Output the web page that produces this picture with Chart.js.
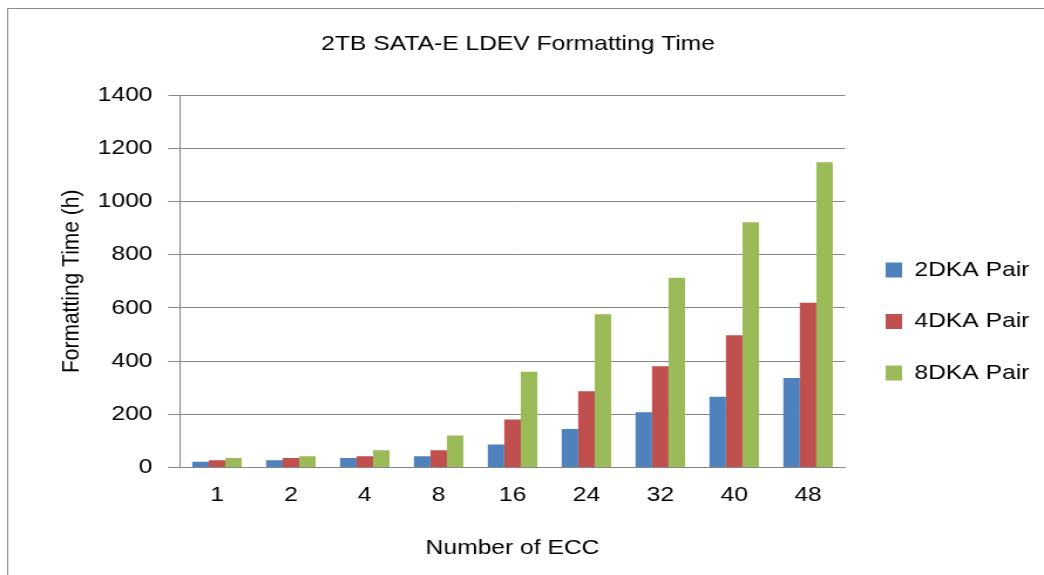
<!DOCTYPE html>
<html>
<head>
<meta charset="utf-8">
<script src="https://cdn.jsdelivr.net/npm/chart.js@4.4.1/dist/chart.umd.min.js"></script>
<style>
  html, body { margin: 0; padding: 0; background: #fff; }
</style>
</head>
<body>
<!-- drawn at 890 wide, shown at 1044: the chart is laid out slightly stretched sideways -->
<canvas id="chart" width="890" height="575" style="width:1044px;height:575px;"></canvas>
<script>
const eccCounts = ['1', '2', '4', '8', '16', '24', '32', '40', '48'];
const dka2 = [22, 28, 36, 43, 87, 145, 208, 266, 337];
const dka4 = [28, 36, 43, 65, 181, 287, 381, 497, 619];
const dka8 = [36, 43, 65, 121, 360, 576, 713, 922, 1147];
const yTicks = [0, 200, 400, 600, 800, 1000, 1200, 1400];

const FONT = "'Liberation Sans', Arial, sans-serif";
const FONT_SIZE = 21;
const gridGray = '#868686';
const Y_AXIS_WIDTH = 153.5;
const LEGEND_X = 755;
const LEGEND_TOP = 229;

// white background + thin frame around the whole chart
const frame = {
  id: 'frame',
  beforeDraw(chart) {
    const ctx = chart.ctx;
    ctx.save();
    ctx.fillStyle = '#fff';
    ctx.fillRect(0, 0, chart.width, chart.height);
    ctx.strokeStyle = '#8c8c8c';
    ctx.lineWidth = 1;
    ctx.strokeRect(6.5, 8.5, chart.width + 20, chart.height + 20);
    ctx.restore();
  }
};

// place the legend block to the right of the plot, around mid-height
const legendShift = {
  id: 'legendShift',
  afterLayout(chart) {
    const lg = chart.legend;
    const dx = LEGEND_X - (lg.left + lg.options.labels.padding);
    const dy = LEGEND_TOP - lg.top;
    lg.left += dx;
    lg.right += dx;
    lg.top += dy;
    lg.bottom += dy;
  }
};

Chart.defaults.font.family = FONT;
Chart.defaults.font.size = FONT_SIZE;
Chart.defaults.color = '#000';

new Chart(document.getElementById('chart'), {
  type: 'bar',
  data: {
    labels: eccCounts,
    datasets: [
      { label: '2DKA Pair', data: dka2, backgroundColor: '#4F81BD' },
      { label: '4DKA Pair', data: dka4, backgroundColor: '#C0504D' },
      { label: '8DKA Pair', data: dka8, backgroundColor: '#9BBB59' }
    ]
  },
  options: {
    responsive: false,
    animation: false,
    devicePixelRatio: 1,
    layout: { padding: { left: 0, right: 6.6, top: 0, bottom: 14 } },
    datasets: {
      bar: { categoryPercentage: 0.67, barPercentage: 1.0, borderWidth: 0 }
    },
    plugins: {
      title: {
        display: true,
        text: '2TB SATA-E LDEV Formatting Time',
        font: { size: FONT_SIZE, weight: 'normal' },
        color: '#000',
        padding: { top: 31.4, bottom: 38.4 }
      },
      legend: {
        position: 'right',
        align: 'start',
        labels: {
          boxWidth: 14,
          boxHeight: 15,
          padding: 30.5,
          color: '#000',
          font: { size: FONT_SIZE }
        }
      },
      tooltip: { enabled: false }
    },
    scales: {
      x: {
        grid: { display: false },
        border: { display: true, color: gridGray },
        ticks: { padding: 7.4, font: { size: FONT_SIZE } },
        title: {
          display: true,
          text: 'Number of ECC',
          font: { size: FONT_SIZE },
          padding: { top: 20.2, bottom: 0 }
        }
      },
      y: {
        min: 0,
        max: 1400,
        afterBuildTicks(scale) {
          scale.ticks = yTicks.map(v => ({ value: v }));
        },
        afterFit(scale) { scale.width = Y_AXIS_WIDTH; },
        grid: { color: gridGray, tickLength: 10, tickColor: gridGray },
        border: { display: true, color: gridGray },
        ticks: {
          padding: 13.5,
          font: { size: FONT_SIZE },
          callback: v => String(v)
        },
        title: {
          display: true,
          text: 'Formatting Time (h)',
          font: { size: FONT_SIZE },
          padding: { top: 48.8, bottom: 0 }
        }
      }
    }
  },
  plugins: [frame, legendShift]
});
</script>
</body>
</html>
